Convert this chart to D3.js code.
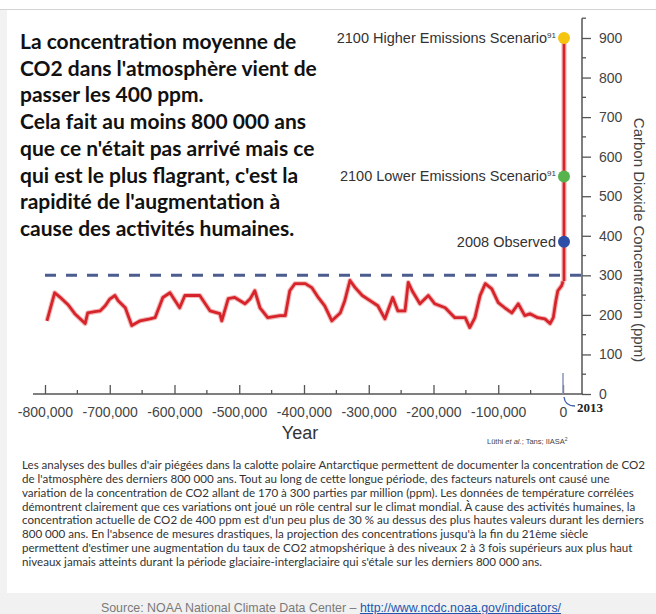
<!DOCTYPE html>
<html>
<head>
<meta charset="utf-8">
<script src="https://cdn.jsdelivr.net/npm/d3@7"></script>
<style>
  html, body { margin: 0; padding: 0; background: #fff; }
  svg { display: block; }
</style>
</head>
<body>
<script>
const titleLines = [
    "La concentration moyenne de",
    "CO2 dans l'atmosphère vient de",
    "passer les 400 ppm.",
    "Cela fait au moins 800 000 ans",
    "que ce n'était pas arrivé mais ce",
    "qui est le plus flagrant, c'est la",
    "rapidité de l'augmentation à",
    "cause des activités humaines."
];

const captionLines = [
    "Les analyses des bulles d'air piégées dans la calotte polaire Antarctique permettent de documenter la concentration de CO2",
    "de l'atmosphère des derniers 800 000 ans. Tout au long de cette longue période, des facteurs naturels ont causé une",
    "variation de la concentration de CO2 allant de 170 à 300 parties par million (ppm). Les données de température corrélées",
    "démontrent clairement que ces variations ont joué un rôle central sur le climat mondial. À cause des activités humaines, la",
    "concentration actuelle de CO2 de 400 ppm est d'un peu plus de 30 % au dessus des plus hautes valeurs durant les derniers",
    "800 000 ans. En l'absence de mesures drastiques, la projection des concentrations jusqu'à la fin du 21ème siècle",
    "permettent d'estimer une augmentation du taux de CO2 atmopshérique à des niveaux 2 à 3 fois supérieurs aux plus haut",
    "niveaux jamais atteints durant la période glaciaire-interglaciaire qui s'étale sur les derniers 800 000 ans."
];

const sourceText = "Source: NOAA National Climate Data Center – ";
const sourceUrl = "http://www.ncdc.noaa.gov/indicators/";

// ice core record, years relative to today
const co2Years = [
    -797000, -785000, -777000, -764000, -754000, -738000, -734000, -723000, -715000, -707000,
    -700000, -692000, -687000, -676000, -666000, -653000, -638000, -630000, -618000, -607000,
    -599000, -592000, -584000, -568000, -561000, -545000, -530000, -527000, -517000, -507000,
    -491000, -483000, -476000, -468000, -456000, -437000, -429000, -422000, -414000, -398000,
    -388000, -378000, -368000, -357000, -344000, -337000, -329000, -321000, -310000, -298000,
    -286000, -275000, -263000, -255000, -244000, -239000, -233000, -221000, -208000, -198000,
    -182000, -167000, -151000, -144000, -136000, -128000, -120000, -110000, -100000, -90000,
    -79000, -69000, -59000, -51000, -39000, -28000, -20000, -15000, -11000, -8000,
    -2000, 0
];
const co2Ppm = [
    185, 256, 245, 225, 203, 178, 205, 208, 210, 223,
    240, 249, 236, 218, 173, 185, 190, 193, 244, 256,
    236, 218, 249, 249, 249, 210, 203, 185, 241, 244,
    228, 241, 261, 218, 193, 198, 198, 261, 279, 279,
    269, 244, 223, 185, 205, 236, 287, 269, 249, 236,
    223, 190, 244, 210, 210, 282, 261, 228, 249, 228,
    218, 193, 193, 168, 193, 249, 279, 266, 231, 218,
    205, 228, 198, 203, 193, 190, 178, 193, 236, 261,
    274, 285
];

const scenarioLabels = ["2008 Observed", "2100 Lower Emissions Scenario", "2100 Higher Emissions Scenario"];
const scenarioRefs = ["", "91", "91"];
const scenarioPpm = [385, 550, 900];

const xTickValues = [-800000, -700000, -600000, -500000, -400000, -300000, -200000, -100000, 0];
const yTickValues = [0, 100, 200, 300, 400, 500, 600, 700, 800, 900];
const preindustrialPpm = 300;

const scenarioColors = ["#2d4ea6", "#57b34b", "#f6c511"];
const sans = "'Liberation Sans', Arial, sans-serif";
const calibri = "Lato, 'Open Sans', sans-serif";

const width = 656, height = 614;

const svg = d3.select('body').append('svg')
    .attr('width', width)
    .attr('height', height);

// frame
svg.append('rect').attr('x', 0).attr('y', 9).attr('width', 7).attr('height', 584).attr('fill', '#f2f2f2');
svg.append('line').attr('x1', 0).attr('x2', width).attr('y1', 9.5).attr('y2', 9.5)
    .attr('stroke', '#d4d4d4').attr('stroke-width', 1);
svg.append('rect').attr('x', 0).attr('y', 593).attr('width', width).attr('height', height - 593).attr('fill', '#f1f1f1');

const x = d3.scaleLinear().domain([-800000, 0]).range([45, 563]);
const y = d3.scaleLinear().domain([0, 900]).range([394, 38]);
const axisX = 582;

const fmt = d => d3.format(',')(d).replace('\u2212', '-');

// x axis
const xAxisG = svg.append('g')
    .attr('transform', `translate(0,${y(0)})`)
    .call(d3.axisBottom(x).tickValues(xTickValues).tickSize(-9).tickPadding(13).tickFormat(fmt));
xAxisG.select('.domain').remove();
xAxisG.append('line').attr('x1', 33).attr('x2', axisX + 1).attr('stroke', '#555').attr('stroke-width', 1.5);
xAxisG.selectAll('.tick line').attr('stroke', '#555').attr('stroke-width', 1.3);
xAxisG.selectAll('.tick text').attr('fill', '#444').attr('font-size', 14).attr('font-family', sans);
xAxisG.selectAll('.minor')
    .data(xTickValues.slice(0, -1).map(d => d + 50000))
    .enter().append('line')
    .attr('x1', d => x(d)).attr('x2', d => x(d))
    .attr('y1', 0).attr('y2', -4)
    .attr('stroke', '#555').attr('stroke-width', 1.3);

// y axis
const yAxisG = svg.append('g')
    .attr('transform', `translate(${axisX},0)`)
    .call(d3.axisRight(y).tickValues(yTickValues).tickSize(9).tickPadding(8));
yAxisG.select('.domain').remove();
yAxisG.append('line').attr('y1', y(0)).attr('y2', y(950)).attr('stroke', '#555').attr('stroke-width', 1.5);
yAxisG.selectAll('.tick line').attr('stroke', '#555').attr('stroke-width', 1.3);
yAxisG.selectAll('.tick text').attr('fill', '#444').attr('font-size', 14).attr('font-family', sans);
yAxisG.selectAll('.minor')
    .data(yTickValues.map(d => d + 50))
    .enter().append('line')
    .attr('y1', d => y(d)).attr('y2', d => y(d))
    .attr('x1', 0).attr('x2', 4)
    .attr('stroke', '#555').attr('stroke-width', 1.3);

svg.append('text')
    .attr('transform', `translate(634,${(y(0) + y(900)) / 2 + 24}) rotate(90)`)
    .attr('text-anchor', 'middle')
    .attr('font-family', sans).attr('font-size', 15).attr('fill', '#444')
    .text('Carbon Dioxide Concentration (ppm)');

svg.append('text')
    .attr('x', 300).attr('y', 439)
    .attr('text-anchor', 'middle')
    .attr('font-family', sans).attr('font-size', 18).attr('fill', '#333')
    .text('Year');

// 300 ppm reference
svg.append('line')
    .attr('x1', x(-800000)).attr('x2', axisX + 8)
    .attr('y1', y(preindustrialPpm)).attr('y2', y(preindustrialPpm))
    .attr('stroke', '#4b5d8f').attr('stroke-width', 3)
    .attr('stroke-dasharray', '11,10');

// ice core line
const co2 = co2Years.map((yr, i) => ({ year: yr, ppm: co2Ppm[i] }));
const line = d3.line().x(d => x(d.year)).y(d => y(d.ppm));
svg.append('path').datum(co2).attr('d', line)
    .attr('fill', 'none').attr('stroke', '#e88a8a').attr('stroke-width', 5)
    .attr('stroke-linejoin', 'round').attr('opacity', 0.6);
svg.append('path').datum(co2).attr('d', line)
    .attr('fill', 'none').attr('stroke', '#d7242a').attr('stroke-width', 2.8)
    .attr('stroke-linejoin', 'round');

// modern rise and projections
const rise = [co2[co2.length - 1], ...scenarioPpm.map(v => ({ year: 0, ppm: v }))];
svg.append('path').datum(rise).attr('d', line)
    .attr('transform', 'translate(1,0)')
    .attr('fill', 'none').attr('stroke', '#f2b0b0').attr('stroke-width', 5);
svg.append('path').datum(rise).attr('d', line)
    .attr('transform', 'translate(1,0)')
    .attr('fill', 'none').attr('stroke', '#d7242a').attr('stroke-width', 2.6);

const scen = svg.append('g').selectAll('g')
    .data(scenarioPpm.map((v, i) => ({ ppm: v, label: scenarioLabels[i], ref: scenarioRefs[i], color: scenarioColors[i] })))
    .enter().append('g');
scen.append('circle')
    .attr('cx', x(0) + 1).attr('cy', d => y(d.ppm)).attr('r', 6)
    .attr('fill', d => d.color);
const scenText = scen.append('text')
    .attr('x', x(0) - 7).attr('y', d => y(d.ppm) + 5)
    .attr('text-anchor', 'end')
    .attr('font-family', sans).attr('font-size', 14.5).attr('fill', '#333');
scenText.append('tspan').text(d => d.label);
scenText.append('tspan')
    .attr('dy', -5).attr('font-size', 8)
    .text(d => d.ref);

// 2013 marker
svg.append('line')
    .attr('x1', x(0)).attr('x2', x(0)).attr('y1', y(0) - 21).attr('y2', y(0))
    .attr('stroke', '#8a96b8').attr('stroke-width', 1.5);
svg.append('path')
    .attr('d', `M${x(0) + 1},${y(0) + 3} Q${x(0) + 2},${y(0) + 12} ${x(0) + 12},${y(0) + 12}`)
    .attr('fill', 'none').attr('stroke', '#3a5ca8').attr('stroke-width', 1.3);
svg.append('text')
    .attr('x', x(0) + 14).attr('y', y(0) + 18)
    .attr('font-family', "'Liberation Serif', serif").attr('font-weight', 'bold')
    .attr('font-size', 13).attr('fill', '#222')
    .text('2013');

// credit
const credit = svg.append('text')
    .attr('x', 487).attr('y', 444)
    .attr('font-family', sans).attr('font-size', 7.5).attr('fill', '#444');
credit.append('tspan').text('Lüthi ');
credit.append('tspan').attr('font-style', 'italic').text('et al.');
credit.append('tspan').text('; Tans; IIASA');
credit.append('tspan').attr('dy', -3).attr('font-size', 5).text('2');

function fitWidth(sel, target) {
    let maxW = 0;
    sel.each(function () { maxW = Math.max(maxW, this.getComputedTextLength()); });
    const fs = parseFloat(sel.attr('font-size'));
    sel.attr('font-size', fs * target / maxW);
}

// headline
const title = svg.append('g').selectAll('text')
    .data(titleLines)
    .enter().append('text')
    .attr('x', 20).attr('y', (d, i) => 49 + i * 26.7)
    .attr('font-family', calibri).attr('font-weight', 'bold')
    .attr('font-size', 21).attr('fill', '#111')
    .text(d => d);
fitWidth(title, 297);

// caption
const caption = svg.append('g').selectAll('text')
    .data(captionLines)
    .enter().append('text')
    .attr('x', 22).attr('y', (d, i) => 469 + i * 13.86)
    .attr('font-family', calibri)
    .attr('font-size', 11).attr('fill', '#333')
    .text(d => d);
fitWidth(caption, 624);

// source
const source = svg.append('text')
    .attr('x', 331).attr('y', 612)
    .attr('text-anchor', 'middle')
    .attr('font-family', sans).attr('font-size', 12.4).attr('fill', '#7a7a7a');
source.append('tspan').text(sourceText);
source.append('tspan').attr('fill', '#2356b0').attr('text-decoration', 'underline').text(sourceUrl);
</script>
</body>
</html>
